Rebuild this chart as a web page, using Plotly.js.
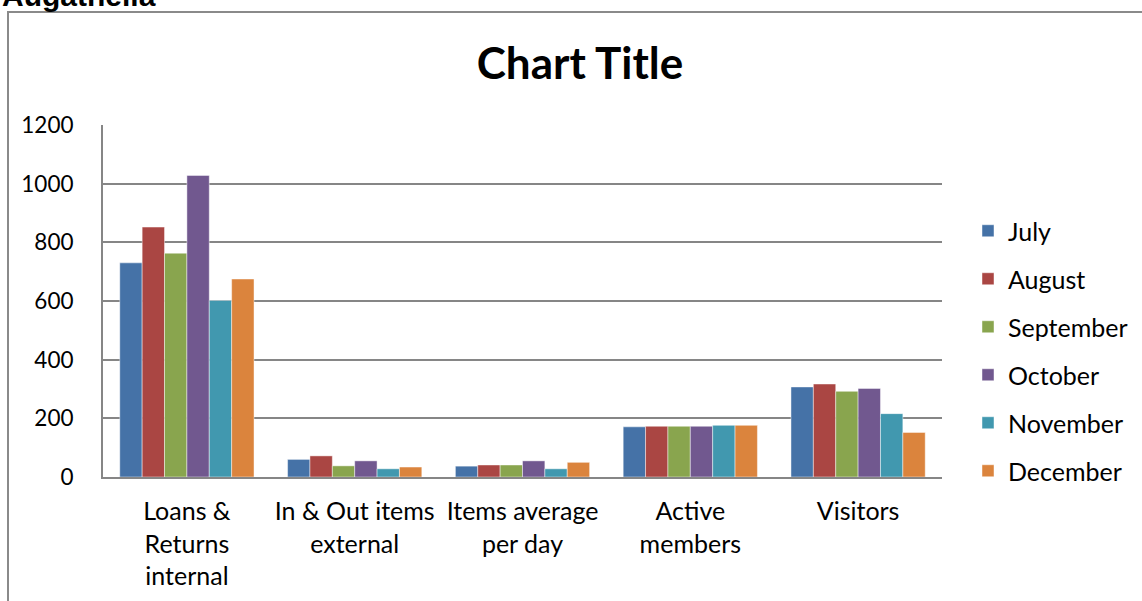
<!DOCTYPE html>
<html>
<head>
<meta charset="utf-8">
<script src="https://cdn.plot.ly/plotly-3.0.1.min.js"></script>
<style>
html,body{margin:0;padding:0;background:#fff;}
#chart{width:1142px;height:601px;}
</style>
</head>
<body>
<div id="chart"></div>
<script>
var categories = ['Loans & Returns internal', 'In & Out items external', 'Items average per day', 'Active members', 'Visitors'];
var tickLabels = ['Loans &<br>Returns<br>internal', 'In & Out items<br>external', 'Items average<br>per day', 'Active<br>members', 'Visitors'];
var seriesNames = ['July', 'August', 'September', 'October', 'November', 'December'];
var july = [730, 60, 37, 171, 307];
var august = [852, 72, 41, 173, 317];
var september = [763, 38, 41, 173, 292];
var october = [1028, 55, 55, 173, 302];
var november = [602, 28, 28, 176, 216];
var december = [675, 34, 50, 176, 152];
var yTicks = [0, 200, 400, 600, 800, 1000, 1200];
var colors = ['#4572A7', '#AA4643', '#89A54E', '#71588F', '#4198AF', '#DB843D'];
var seriesValues = [july, august, september, october, november, december];

var FONT = 'Lato, "Open Sans", sans-serif';

var traces = seriesNames.map(function(name, i) {
  return {
    type: 'bar',
    name: name,
    x: categories,
    y: seriesValues[i],
    legendgroup: 'g' + i,
    marker: {color: colors[i], line: {color: 'rgba(255,255,255,0.45)', width: 1}},
    hoverinfo: 'x+y+name'
  };
});

var layout = {
  width: 1142,
  height: 601,
  margin: {l: 103, r: 200, t: 125, b: 124},
  paper_bgcolor: '#ffffff',
  plot_bgcolor: '#ffffff',
  barmode: 'group',
  bargap: 0.2,
  bargroupgap: 0,
  font: {family: FONT, size: 24, color: '#000000'},
  title: {
    text: '<b>Chart Title</b>',
    font: {family: FONT, size: 44, color: '#000000'},
    xref: 'container', x: 580 / 1142, xanchor: 'center',
    yref: 'container', y: 1 - 64 / 601, yanchor: 'middle'
  },
  xaxis: {
    type: 'category',
    tickmode: 'array',
    tickvals: categories,
    ticktext: tickLabels,
    ticks: '',
    showgrid: false,
    showline: true,
    linecolor: '#868686',
    linewidth: 2,
    tickfont: {family: FONT, size: 25, color: '#000000'},
    ticklabelstandoff: 11,
    zeroline: false,
    fixedrange: true
  },
  yaxis: {
    range: [0, 1200],
    tickmode: 'array',
    tickvals: yTicks,
    ticktext: yTicks.map(String),
    ticks: '',
    showgrid: true,
    gridcolor: '#868686',
    gridwidth: 2,
    showline: true,
    linecolor: '#868686',
    linewidth: 2,
    zeroline: false,
    tickfont: {family: FONT, size: 22.5, color: '#000000'},
    ticklabelstandoff: 23,
    fixedrange: true
  },
  legend: {
    xref: 'container',
    yref: 'container',
    x: 968 / 1142,
    xanchor: 'left',
    y: 1 - 351 / 601,
    yanchor: 'middle',
    font: {family: FONT, size: 25, color: '#000000'},
    tracegroupgap: 12.5,
    traceorder: 'grouped',
    bgcolor: 'rgba(0,0,0,0)'
  },
  shapes: [{
    type: 'rect',
    xref: 'paper', yref: 'paper',
    x0: (8 - 103) / 839, x1: (1160 - 103) / 839,
    y0: (477 - 620) / 352, y1: (477 - 12) / 352,
    line: {color: '#8a8a8a', width: 2},
    fillcolor: 'rgba(0,0,0,0)',
    layer: 'below'
  }],
  annotations: [{
    text: '<b>Augathella</b>',
    xref: 'paper', yref: 'paper',
    x: (0 - 103) / 839, xanchor: 'left',
    y: (477 - 14) / 352, yanchor: 'bottom',
    showarrow: false,
    font: {family: '"Liberation Sans", Arial, sans-serif', size: 30, color: '#000000'}
  }]
};

Plotly.newPlot('chart', traces, layout, {displayModeBar: false, staticPlot: true});
</script>
</body>
</html>
